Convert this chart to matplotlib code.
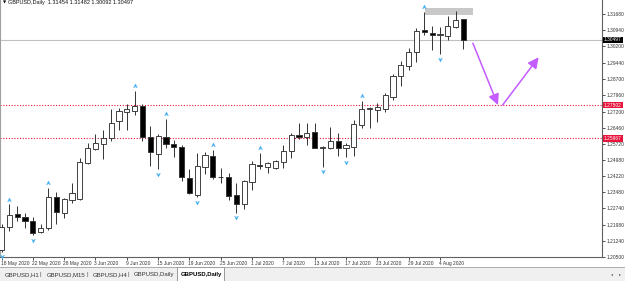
import matplotlib
matplotlib.use("Agg")
import matplotlib.pyplot as plt
from matplotlib.patches import Rectangle, FancyArrowPatch
from matplotlib.path import Path
import matplotlib.transforms as mtransforms

# ---------------- data (GBPUSD Daily, 18 May - 7 Aug 2020) ----------------
dates = ["18 May", "19 May", "20 May", "21 May", "22 May", "25 May", "26 May", "27 May", "28 May", "29 May",
         "1 Jun", "2 Jun", "3 Jun", "4 Jun", "5 Jun", "8 Jun", "9 Jun", "10 Jun", "11 Jun", "12 Jun",
         "15 Jun", "16 Jun", "17 Jun", "18 Jun", "19 Jun", "22 Jun", "23 Jun", "24 Jun", "25 Jun", "26 Jun",
         "29 Jun", "30 Jun", "1 Jul", "2 Jul", "3 Jul", "6 Jul", "7 Jul", "8 Jul", "9 Jul", "10 Jul",
         "13 Jul", "14 Jul", "15 Jul", "16 Jul", "17 Jul", "20 Jul", "21 Jul", "22 Jul", "23 Jul", "24 Jul",
         "27 Jul", "28 Jul", "29 Jul", "30 Jul", "31 Jul", "3 Aug", "4 Aug", "5 Aug", "6 Aug", "7 Aug"]
opens = [1.2082, 1.2188, 1.2248, 1.2234, 1.2216, 1.2165, 1.2184, 1.2326, 1.2253, 1.2313,
         1.2317, 1.2483, 1.2548, 1.2571, 1.2598, 1.2678, 1.2719, 1.2724, 1.2745, 1.2601,
         1.2523, 1.2603, 1.2571, 1.2555, 1.2413, 1.2336, 1.2466, 1.2517, 1.2419, 1.2420,
         1.2334, 1.2294, 1.2397, 1.2472, 1.2466, 1.2461, 1.2486, 1.2540, 1.2612, 1.2604,
         1.2624, 1.2553, 1.2551, 1.2586, 1.2551, 1.2558, 1.2658, 1.2732, 1.2727, 1.2730,
         1.2788, 1.2884, 1.2931, 1.2993, 1.3094, 1.3080, 1.3073, 1.3068, 1.3111, 1.31454]
highs = [1.2200, 1.2294, 1.2285, 1.2253, 1.2234, 1.2200, 1.2368, 1.2349, 1.2322, 1.2392,
         1.2506, 1.2575, 1.2617, 1.2635, 1.2732, 1.2736, 1.2755, 1.2816, 1.2755, 1.2653,
         1.2615, 1.2688, 1.2589, 1.2566, 1.2455, 1.2529, 1.2532, 1.2545, 1.2461, 1.2438,
         1.2389, 1.2405, 1.2492, 1.2530, 1.2486, 1.2495, 1.2566, 1.2620, 1.2669, 1.2666,
         1.2666, 1.2561, 1.2650, 1.2623, 1.2574, 1.2680, 1.2770, 1.2740, 1.2758, 1.2807,
         1.2893, 1.2953, 1.3012, 1.3105, 1.3180, 1.3114, 1.3111, 1.3160, 1.3183, 1.31482]
lows = [1.2075, 1.2170, 1.2216, 1.2184, 1.2151, 1.2160, 1.2174, 1.2202, 1.2230, 1.2299,
        1.2313, 1.2480, 1.2543, 1.2501, 1.2585, 1.2635, 1.2635, 1.2704, 1.2586, 1.2471,
        1.2455, 1.2550, 1.2509, 1.2401, 1.2340, 1.2326, 1.2432, 1.2410, 1.2389, 1.2313,
        1.2254, 1.2270, 1.2359, 1.2454, 1.2438, 1.2455, 1.2461, 1.2505, 1.2592, 1.2566,
        1.2550, 1.2466, 1.2546, 1.2515, 1.2509, 1.2515, 1.2645, 1.2643, 1.2673, 1.2719,
        1.2775, 1.2838, 1.2912, 1.2950, 1.3073, 1.3004, 1.2985, 1.3050, 1.3103, 1.30092]
closes = [1.2188, 1.2243, 1.2234, 1.2216, 1.2161, 1.2184, 1.2326, 1.2257, 1.2317, 1.2345,
          1.2488, 1.2552, 1.2575, 1.2598, 1.2667, 1.2723, 1.2730, 1.2745, 1.2601, 1.2535,
          1.2607, 1.2571, 1.2555, 1.2420, 1.2346, 1.2469, 1.2520, 1.2417, 1.2417, 1.2331,
          1.2294, 1.2400, 1.2477, 1.2469, 1.2482, 1.2492, 1.2540, 1.2612, 1.2604, 1.2620,
          1.2553, 1.2556, 1.2586, 1.2553, 1.2566, 1.2663, 1.2730, 1.2735, 1.2742, 1.2796,
          1.2884, 1.2934, 1.2996, 1.3093, 1.3085, 1.3073, 1.3075, 1.3114, 1.3142, 1.30497]

fractal_up = [1, 6, 17, 21, 27, 33, 46, 54]
fractal_down = [0, 4, 20, 25, 30, 41, 44, 56]

date_label_idx = [0, 4, 8, 12, 16, 20, 24, 28, 32, 36, 40, 44, 48, 52, 56]
date_labels = ["18 May 2020", "22 May 2020", "28 May 2020", "3 Jun 2020", "9 Jun 2020", "15 Jun 2020",
               "19 Jun 2020", "25 Jun 2020", "1 Jul 2020", "7 Jul 2020", "13 Jul 2020", "17 Jul 2020",
               "23 Jul 2020", "29 Jul 2020", "4 Aug 2020"]

price_ticks = [1.20500, 1.21240, 1.21980, 1.22740, 1.23480, 1.24220, 1.24980, 1.25720,
               1.26460, 1.27200, 1.27960, 1.28700, 1.29440, 1.30200, 1.30940, 1.31680]

bid_price = 1.30497
level_lines = [1.27502, 1.25967]

# drawn objects: projection path (bar index, price) and a grey zone
path_down = [(60.2, 1.3035), (63.4, 1.27502)]
path_up = [(64.0, 1.27502), (68.6, 1.2970)]
zone_x = (54.1, 60.2)
zone_y = (1.3165, 1.3197)

tabs = ["GBPUSD,H1", "GBPUSD,M15", "GBPUSD,H4", "GBPUSD,Daily", "GBPUSD,Daily"]

# ---------------- figure ----------------
W, H = 625, 281
fig = plt.figure(figsize=(W / 100, H / 100), dpi=100)
fig.patch.set_facecolor("white")
ax_l, ax_r, ax_top, ax_bot = 0, 602, 0, 257
ax = fig.add_axes([ax_l / W, (H - ax_bot) / H, (ax_r - ax_l) / W, (ax_bot - ax_top) / H])

bar_px = 7.83
first_px = 1.5
xmin = -first_px / bar_px
xmax = xmin + (ax_r - ax_l) / bar_px
ymin = 1.205
ymax = ymin + (ax_bot - ax_top) / 2170.8
ax.set_xlim(xmin, xmax)
ax.set_ylim(ymin, ymax)

FONT = "Liberation Sans"
FS = 3.5

# level lines
ax.axhline(bid_price, color="#c0c0c0", lw=0.8, zorder=1)
for lv in level_lines:
    ax.axhline(lv, color="#e8143c", lw=0.8, ls=(0, (1, 1.5)), zorder=1)

# grey zone
ax.add_patch(Rectangle((zone_x[0], zone_y[0]), zone_x[1] - zone_x[0], zone_y[1] - zone_y[0],
                       facecolor="#c8c8c8", edgecolor="none", zorder=1))

# candles
bw = 0.66
for i, (o, h, l, c) in enumerate(zip(opens, highs, lows, closes)):
    ax.vlines(i, l, h, color="#333333", lw=0.7, zorder=2)
    lo, hi = min(o, c), max(o, c)
    if hi - lo < 0.00012:
        ax.hlines((o + c) / 2, i - bw / 2, i + bw / 2, color="#111111", lw=1.1, zorder=3)
    else:
        fc = "white" if c >= o else "black"
        ax.add_patch(Rectangle((i - bw / 2, lo), bw, hi - lo, facecolor=fc,
                               edgecolor="#333333", lw=0.65, zorder=3))

# fractal arrows
arrow_up = Path([(0, 1), (0.75, -0.5), (0, -0.1), (-0.75, -0.5), (0, 1)],
                [Path.MOVETO, Path.LINETO, Path.LINETO, Path.LINETO, Path.CLOSEPOLY])
arrow_dn = Path([(0, -1), (0.75, 0.5), (0, 0.1), (-0.75, 0.5), (0, -1)],
                [Path.MOVETO, Path.LINETO, Path.LINETO, Path.LINETO, Path.CLOSEPOLY])
tr_up = mtransforms.offset_copy(ax.transData, fig=fig, y=4.5, units="dots")
tr_dn = mtransforms.offset_copy(ax.transData, fig=fig, y=-4.5, units="dots")
ax.plot(fractal_up, [highs[i] for i in fractal_up], ls="none", marker=arrow_up,
        ms=3.6, color="#48b0f5", mec="#48b0f5", mew=0.3, transform=tr_up, zorder=4, clip_on=False)
ax.plot(fractal_down, [lows[i] for i in fractal_down], ls="none", marker=arrow_dn,
        ms=3.6, color="#48b0f5", mec="#48b0f5", mew=0.3, transform=tr_dn, zorder=4, clip_on=False)

# projection arrows
for seg in (path_down, path_up):
    ax.add_patch(FancyArrowPatch(seg[0], seg[1], arrowstyle="-|>,head_length=4,head_width=2",
                                 color="#c45cff", lw=1.1, mutation_scale=1.6, zorder=5,
                                 shrinkA=0, shrinkB=0))

# axes styling
ax.spines["top"].set_visible(False)
ax.spines["left"].set_color("#a0a0a0")
ax.spines["left"].set_linewidth(0.8)
ax.spines["right"].set_color("#606060")
ax.spines["bottom"].set_color("#606060")
ax.spines["right"].set_linewidth(0.8)
ax.spines["bottom"].set_linewidth(0.8)

ax.yaxis.tick_right()
ax.set_yticks(price_ticks)
ax.set_yticklabels([f"{p:.5f}" for p in price_ticks], fontsize=FS, family=FONT, color="#222222")
ax.tick_params(axis="y", length=2, width=0.6, pad=1.2, colors="#333333")

ax.set_xticks(date_label_idx)
ax.set_xticklabels(date_labels, fontsize=FS, family=FONT, color="#222222", ha="left")
ax.tick_params(axis="x", length=2, width=0.6, pad=1.0, colors="#333333")
offset = mtransforms.ScaledTranslation(-1.0 / 100, 0, fig.dpi_scale_trans)
for lab in ax.get_xticklabels():
    lab.set_transform(lab.get_transform() + offset)

# right axis price boxes
def price_box(price, fc):
    ax.annotate(f"{price:.5f}", xy=(1, price), xycoords=("axes fraction", "data"),
                xytext=(1.3, 0), textcoords="offset points", fontsize=FS, family=FONT,
                color="white", va="center", ha="left",
                bbox=dict(boxstyle="square,pad=0.2", fc=fc, ec="none"), annotation_clip=False,
                zorder=10)

price_box(bid_price, "black")
for lv in level_lines:
    price_box(lv, "#e8143c")

# title text
fig.text(2.5 / W, 1 - 2.8 / H, "\u25bc", fontsize=3, family="DejaVu Sans", va="center", ha="left")
fig.text(8 / W, 1 - 2.8 / H, "GBPUSD,Daily  1.31454 1.31482 1.30092 1.30497", fontsize=4,
         family=FONT, va="center", ha="left", color="#111111")

# tab bar
tab_ax = fig.add_axes([0, 0, 1, 14 / H])
tab_ax.set_xlim(0, W)
tab_ax.set_ylim(0, 14)
tab_ax.axis("off")
tab_ax.add_patch(Rectangle((0, 0), W, 14, facecolor="#f0f0f0", edgecolor="none"))
tab_ax.plot([0, W], [13.6, 13.6], color="#a0a0a0", lw=0.6)
tab_x = [5, 47, 93, 134, 181]
for k, (tx, name) in enumerate(zip(tab_x, tabs)):
    if k == len(tabs) - 1:
        tab_ax.add_patch(Rectangle((tx - 4, 0.5), 47, 13.2, facecolor="white", edgecolor="#8a8a8a", lw=0.6))
        tab_ax.text(tx, 6.5, name, fontsize=4.3, family=FONT, va="center", ha="left",
                    color="black", fontweight="bold")
    else:
        tab_ax.text(tx, 6.5, name, fontsize=4.3, family=FONT, va="center", ha="left", color="#333333")
for sx in [40, 87, 128]:
    tab_ax.text(sx, 6.5, "|", fontsize=4.3, family=FONT, va="center", ha="center", color="#555555")
tab_ax.text(612, 6.5, "\u25c2", fontsize=3, family="DejaVu Sans", va="center", ha="center", color="#555555")
tab_ax.text(620, 6.5, "\u25b8", fontsize=3, family="DejaVu Sans", va="center", ha="center", color="#555555")

fig.savefig("out.png", dpi=100)
